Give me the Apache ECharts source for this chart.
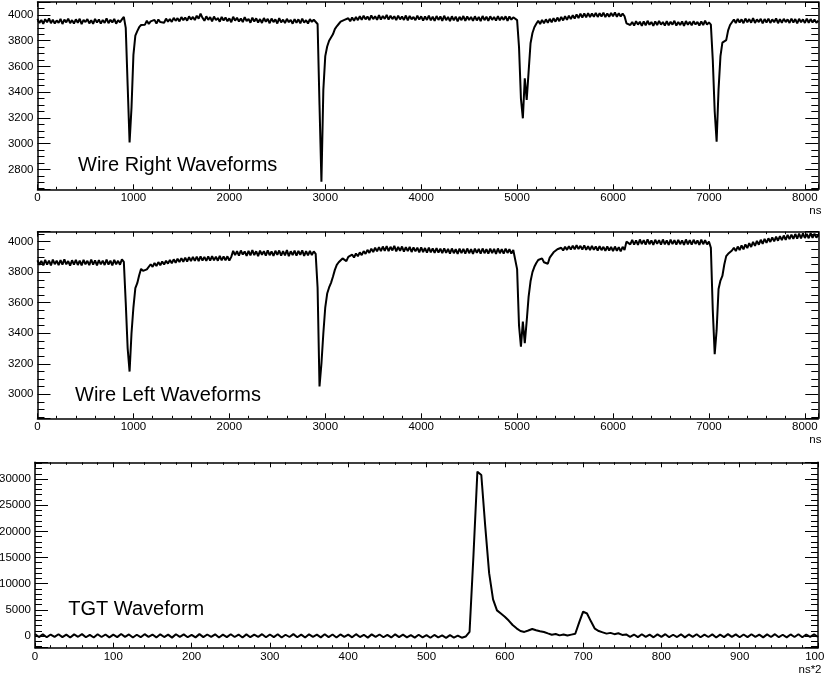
<!DOCTYPE html>
<html>
<head>
<meta charset="utf-8">
<script src="https://cdn.jsdelivr.net/npm/echarts@6/dist/echarts.min.js"></script>
<style>
html,body{margin:0;padding:0;background:#fff;}
#chart{width:825px;height:679px;}
</style>
</head>
<body>
<div id="chart"></div>
<script>
// ---- panel titles / axis units ----
const panelTitles = ['Wire Right Waveforms', 'Wire Left Waveforms', 'TGT Waveform'];
const xUnits = ['ns', 'ns', 'ns*2'];

// ---- sample spacing of each waveform (x of sample i = i * step) ----
const wireStep = 20;   // ns
const tgtStep = 5;     // ns*2

// ---- Wire Right waveform, ADC values sampled every 20 ns from 0 to 8140 ----
const wireRight = [
3970,3938,3961,3932,3967,3944,3973,3936,3963,3933,3958,3939,3969,3930,3964,3943,3972,3937,3960,3934,
3966,3940,3971,3929,3962,3945,3968,3935,3959,3931,3970,3941,3965,3933,3961,3938,3974,3936,3963,3942,
3969,3932,3960,3944,3966,
3985,3900,3450,3010,3280,3690,3840,3875,3905,3922,3935,
3925,3955,3931,3950,3936,3962,3933,3965,3945,3960,3940,3972,3948,3968,3946,3978,3955,3975,3950,3984,3960,3980,3956,3990,3964,3985,3961,3994,3972,
4010,
3978,3955,3990,3962,3984,3950,3988,3960,3976,3948,
3985,3957,3980,3952,3974,3944,3986,3956,3978,3950,
3972,3945,3983,3953,3970,3940,3979,3950,3974,3942,
3968,3938,3976,3947,3970,3936,3972,3945,3966,3934,
3975,3942,3964,3937,3970,3944,3962,3932,3968,3940,
3966,3935,3972,3941,3960,3934,3968,3946,3963,3950,
3930,3300,2704,3420,3680,3755,3800,3812,3850,3890,3912,3930,3948,
3935,3962,3948,3975,3952,3980,3955,3985,3960,3990,
3962,3994,3966,3988,3960,3996,3968,3990,3962,3998,
3965,3992,3970,4000,3964,3994,3968,3990,3960,3995,
3966,3988,3962,3996,3958,3992,3966,3985,3960,3994,
3964,3990,3956,3988,3962,3995,3958,3986,3954,3992,
3962,3988,3955,3994,3960,3985,3952,3990,3958,3987,
3950,3986,3960,3992,3955,3988,3962,3984,3954,3990,
3958,3985,3952,3992,3960,3986,3955,3990,3962,3984,
3956,3991,3958,3986,3962,3990,3955,3988,3964,3982,
3975,3960,3750,3350,3197,3508,3339,3560,3780,3860,3905,3932,
3955,3930,3962,3935,3966,3940,3970,3944,3975,3948,
3980,3952,3985,3958,3990,3962,3995,3968,3998,3972,
4005,3976,4010,3980,4012,3982,4015,3984,4012,3986,
4016,3985,4014,3988,4018,3984,4012,3986,4016,3990,
4020,3986,4014,3988,4012,3990,
3935,
3950,3922,3946,3918,3952,3925,3948,3916,3950,3920,
3955,3924,3946,3915,3950,3922,3954,3926,3945,3918,
3952,3920,3948,3925,3955,3918,3946,3922,3950,3916,
3953,3924,3948,3920,3952,3926,3946,3918,3950,3922,
3955,3925,3942,
3925,3650,3250,3015,3420,3680,3785,3792,3805,3880,3922,3932,
3965,3938,3970,3942,3966,3936,3972,3944,3968,3940,
3975,3938,3966,3945,3970,3935,3968,3942,3972,3938,
3966,3944,3974,3936,3968,3940,3970,3945,3966,3938,
3972,3942,3968,3935,3970,3944,3966,3938,3972,3940,
3968,3942,3965,3940,3955
];

// ---- Wire Left waveform, ADC values sampled every 20 ns from 0 to 8140 ----
const wireLeft = [
3878,3848,3874,3845,3880,3850,3876,3844,3882,3852,
3875,3846,3879,3849,3884,3851,3873,3843,3878,3850,
3881,3847,3876,3845,3880,3852,3874,3846,3883,3849,
3877,3844,3879,3851,3875,3847,3882,3850,3876,3845,
3880,3852,3874,3849,3884,
3868,3600,3300,3149,3400,3570,3695,3728,3780,3822,3808,3800,3818,
3828,3852,3835,3860,3840,3866,3845,3870,3850,3875,
3856,3880,3858,3884,3862,3888,3866,3892,3868,3895,
3870,3898,3872,3900,3874,3902,3873,3904,3876,3900,
3874,3903,3876,3905,3878,3902,3875,3906,3877,3903,
3878,3904,3876,3900,
3940,3912,3938,3908,3942,3915,3936,3906,3940,3910,
3944,3912,3937,3905,3941,3914,3938,3908,3943,3911,
3936,3906,3940,3913,3942,3908,3938,3910,3944,3905,
3937,3912,3941,3908,3939,3914,3943,3906,3937,3910,
3940,3912,3936,3920,
3700,3051,3200,3400,3570,3660,3700,3730,3770,3815,3848,3865,3878,3890,3885,
3872,3900,3888,3915,3896,3922,3904,3930,3912,3938,
3920,3946,3926,3954,3932,3960,3936,3964,3938,3968,
3940,3970,3938,3966,3942,3972,3936,3965,3940,3968,
3934,3964,3938,3966,3932,3962,3936,3960,3930,3962,
3932,3958,3928,3960,3930,3956,3926,3958,3928,3954,
3924,3956,3926,3952,3922,3955,3924,3950,3920,3954,
3925,3952,3922,3955,3924,3950,3920,3954,3926,3952,
3922,3955,3924,3950,3921,3954,3925,3952,3920,3955,
3924,3950,3922,3954,3926,3950,3922,3945,
3935,3820,3450,3312,3476,3335,3480,3640,3740,3800,3835,3860,3880,3887,
3890,3865,3875,3855,3895,3905,3930,3935,3950,3940,
3960,3942,3966,3946,3970,3948,3974,3950,3976,3952,
3972,3948,3975,3946,3970,3944,3972,3946,3968,3942,
3970,3944,3966,3940,3968,3942,3965,3938,3968,3940,
3964,3936,3966,3945,
4000,
4010,3982,4012,3980,4008,3978,4014,3984,4010,3980,
4015,3983,4008,3978,4012,3985,4010,3980,4014,3982,
4008,3978,4013,3984,4010,3980,4012,3983,4008,3979,
4014,3982,4010,3980,4012,3985,4008,3978,4013,3983,
4010,3982,4000,
3960,3550,3263,3420,3690,3745,3775,3850,3905,3920,3930,3942,
3960,3938,3968,3945,3975,3950,3982,3958,3990,3965,
3998,3972,4005,3980,4012,3986,4018,3992,4022,3998,
4028,4002,4032,4006,4036,4010,4040,4012,4044,4016,
4046,4018,4050,4020,4052,4022,4054,4024,4050,4022,
4055,4024,4052,4026,4045
];

// ---- TGT waveform, ADC values sampled every 5 (ns*2) from 0 to 1000 ----
const tgt = [
350,-200,300,-250,280,-180,340,-220,260,-300,
310,-150,360,-240,220,-280,330,-190,290,-260,
250,-210,370,-170,300,-290,240,-230,350,-160,
280,-270,320,-200,260,-310,340,-180,300,-240,
230,-260,360,-210,290,-170,320,-280,250,-220,
340,-190,280,-300,310,-230,260,-170,350,-250,
290,-210,330,-280,240,-190,360,-240,270,-300,
320,-160,250,-260,340,-220,280,-290,300,-180,
260,-250,350,-200,230,-310,310,-170,290,-240,
200,-280,320,-220,250,-260,180,-300,240,-250,
150,-330,200,-280,100,-350,160,-300,80,-320,
-100,
800,15480,31400,30770,21000,12000,7000,4900,4300,3690,
2950,2100,1470,950,780,1050,1340,1100,900,760,
500,250,380,120,300,80,260,420,2600,4650,
4300,2800,1400,950,700,450,600,350,520,200,
300,-150,280,-220,330,-180,260,-250,310,-170,
350,-230,240,-200,320,-260,290,-160,340,-240,
270,-190,310,-280,250,-210,360,-170,300,-250,
280,-220,330,-180,260,-270,310,-200,350,-230,
240,-260,300,-190,330,-240,280,-170,310,-200
];

// ---- axis ranges / tick steps ----
const xRanges = [[0, 8140], [0, 8140], [0, 1000]];
const xSteps = [1000, 1000, 100];
const yRanges = [[2645, 4101], [2843, 4065], [-2236, 33190]];
const ySteps = [200, 200, 5000];
const ySplitNumbers = [7, 6, 7];
const yMinorSplits = [4, 4, 5];
const seriesValues = [wireRight, wireLeft, tgt];
const sampleSteps = [wireStep, wireStep, tgtStep];

const FONT = 'Liberation Sans';
const grids = [
  {left: 37.5, top: 2, width: 780.8, height: 187.3},
  {left: 37.5, top: 231.7, width: 780.8, height: 186.6},
  {left: 35, top: 462.3, width: 783, height: 185.4}
].map(function (g) { return Object.assign({containLabel: false, outerBoundsMode: 'none'}, g); });

const lineStyle = {color: '#000', width: 1.5};
const xAxes = [], yAxes = [], series = [], graphics = [];

for (let p = 0; p < 3; p++) {
  const xs = xSteps[p], ys = ySteps[p];
  ['bottom', 'top'].forEach(function (pos) {
    xAxes.push({
      type: 'value', gridIndex: p, position: pos,
      min: xRanges[p][0], max: xRanges[p][1], interval: xs,
      axisLine: {show: true, onZero: false, lineStyle: lineStyle},
      axisTick: {show: true, inside: true, length: 5, lineStyle: {color: '#000', width: 1}},
      minorTick: {show: true, splitNumber: 5, length: 2.5, lineStyle: {color: '#000', width: 1}},
      splitLine: {show: false}, minorSplitLine: {show: false},
      axisLabel: {
        show: pos === 'bottom', margin: 3, color: '#000', fontFamily: FONT, fontSize: 11.5,
        showMinLabel: true, showMaxLabel: true, hideOverlap: false,
        formatter: function (v) { return (Math.abs(v % xs) < 1e-6) ? String(v) : ''; }
      }
    });
  });
  ['left', 'right'].forEach(function (pos) {
    yAxes.push({
      type: 'value', gridIndex: p, position: pos,
      min: yRanges[p][0], max: yRanges[p][1], splitNumber: ySplitNumbers[p],
      axisLine: {show: true, onZero: false, lineStyle: lineStyle},
      axisTick: {show: true, inside: true, length: 13, lineStyle: {color: '#000', width: 1}},
      minorTick: {show: true, splitNumber: yMinorSplits[p], length: 7, lineStyle: {color: '#000', width: 1}},
      splitLine: {show: false}, minorSplitLine: {show: false},
      axisLabel: {
        show: pos === 'left', margin: 4, color: '#000', fontFamily: FONT, fontSize: 11.5,
        hideOverlap: false,
        formatter: function (v) { return (Math.abs(v % ys) < 1e-6) ? String(v) : ''; }
      }
    });
  });
  const step = sampleSteps[p];
  series.push({
    type: 'line', xAxisIndex: p * 2, yAxisIndex: p * 2,
    data: seriesValues[p].map(function (v, i) { return [i * step, v]; }),
    showSymbol: false, symbol: 'none', smooth: false, sampling: undefined,
    lineStyle: {color: '#000', width: 2}, silent: true, clip: true
  });
}

const titleY = [165.7, 395.3, 609.7];
const titleX = [78, 75, 68.3];
const axisBottoms = [189.3, 418.3, 647.7];
for (let p = 0; p < 3; p++) {
  graphics.push({
    type: 'text', x: titleX[p], y: titleY[p],
    style: {text: panelTitles[p], fontFamily: FONT, fontSize: 20, fill: '#000', verticalAlign: 'middle', align: 'left'}
  });
  graphics.push({
    type: 'text', x: 821.5, y: axisBottoms[p] + 22,
    style: {text: xUnits[p], fontFamily: FONT, fontSize: 11.5, fill: '#000', verticalAlign: 'middle', align: 'right'}
  });
}

const chart = echarts.init(document.getElementById('chart'), null, {renderer: 'canvas'});
chart.setOption({
  animation: false,
  backgroundColor: '#fff',
  grid: grids,
  xAxis: xAxes,
  yAxis: yAxes,
  series: series,
  graphic: graphics
});
</script>
</body>
</html>
